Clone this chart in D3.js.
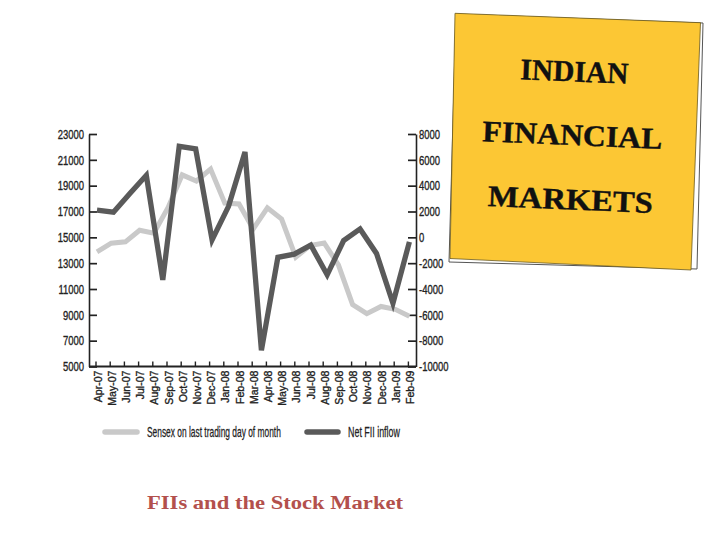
<!DOCTYPE html>
<html>
<head>
<meta charset="utf-8">
<script src="https://cdn.jsdelivr.net/npm/d3@7"></script>
<style>
  html, body { margin: 0; padding: 0; background: #fff; }
  svg { display: block; }
</style>
</head>
<body>
<svg id="chart" width="728" height="546"></svg>
<script>
// ---- data ----
const months = ["Apr-07","May-07","Jun-07","Jul-07","Aug-07","Sep-07","Oct-07","Nov-07","Dec-07",
  "Jan-08","Feb-08","Mar-08","Apr-08","May-08","Jun-08","Jul-08","Aug-08","Sep-08","Oct-08",
  "Nov-08","Dec-08","Jan-09","Feb-09"];
const sensex = [13872,14544,14651,15551,15319,17291,19838,19363,20287,17649,17579,15644,
  17287,16416,13462,14356,14565,12860,9788,9093,9647,9424,8892];
// Net FII inflow as drawn (20 vertices spread over the same span)
const fiiInflow = [2100,1950,3400,4800,-3300,7050,6850,-200,2400,6600,-8750,-1550,-1300,
  -600,-2900,-250,650,-1250,-5100,-350];
const leftTicks = [5000,7000,9000,11000,13000,15000,17000,19000,21000,23000];
const rightTicks = [-10000,-8000,-6000,-4000,-2000,0,2000,4000,6000,8000];
const legendLabels = ["Sensex  on last trading day of month", "Net FII inflow"];
const titleLines = ["INDIAN", "FINANCIAL", "MARKETS"];
const caption = "FIIs and the Stock Market";

// ---- layout ----
const svg = d3.select("#chart");
const axisLeftX = 89, axisRightX = 416, plotTop = 134, plotBottom = 366.5;
const x = d3.scalePoint().domain(months).range([97, 409.4]);
const xF = d3.scaleLinear().domain([0, fiiInflow.length - 1]).range([x(months[0]), x(months[months.length - 1])]);
const yL = d3.scaleLinear().domain([5000, 23000]).range([plotBottom, plotTop]);
const yR = d3.scaleLinear().domain([-10000, 8000]).range([plotBottom, plotTop]);

const tickFont = "'Liberation Sans', Arial, sans-serif";
function squeeze(sel, ratio) {
  sel.each(function () {
    const w = this.getComputedTextLength();
    d3.select(this).attr("textLength", w * ratio).attr("lengthAdjust", "spacingAndGlyphs");
  });
}
function inkText(sel, size) {
  sel.attr("font-family", tickFont).attr("font-size", size).attr("fill", "#222")
    .attr("stroke", "#222").attr("stroke-width", 0.35);
}

// left axis
const gL = svg.append("g").attr("transform", `translate(${axisLeftX},0)`)
  .call(d3.axisLeft(yL).tickValues(leftTicks).tickSize(-8).tickSizeOuter(0).tickPadding(5).tickFormat(d3.format("d")));
gL.select(".domain").attr("stroke", "#222").attr("stroke-width", 1.6);
gL.selectAll(".tick line").attr("stroke", "#222").attr("stroke-width", 1.7);
inkText(gL.selectAll("text"), 13.5);
squeeze(gL.selectAll("text"), 0.7);

// right axis
const gR = svg.append("g").attr("transform", `translate(${axisRightX},0)`)
  .call(d3.axisRight(yR).tickValues(rightTicks).tickSize(-8).tickSizeOuter(0).tickPadding(3).tickFormat(d => String(d)));
gR.select(".domain").attr("stroke", "#222").attr("stroke-width", 1.6);
gR.selectAll(".tick line").attr("stroke", "#222").attr("stroke-width", 1.7);
inkText(gR.selectAll("text"), 13.5);
squeeze(gR.selectAll("text"), 0.7);

// bottom axis
svg.append("line").attr("x1", axisLeftX).attr("x2", axisRightX).attr("y1", plotBottom).attr("y2", plotBottom)
  .attr("stroke", "#222").attr("stroke-width", 2);
const gB = svg.append("g").attr("transform", `translate(0,${plotBottom})`)
  .call(d3.axisBottom(x).tickSize(-5).tickSizeOuter(0));
gB.select(".domain").remove();
gB.selectAll(".tick line").attr("stroke", "#222").attr("stroke-width", 1.4).attr("transform", "translate(-1.5,0)");
inkText(gB.selectAll("text"), 11.5);
gB.selectAll("text")
  .attr("text-anchor", "end").attr("transform", "rotate(-90)")
  .attr("x", -4).attr("y", 0).attr("dy", "0.36em");
squeeze(gB.selectAll("text"), 0.92);

// lines
const lineS = d3.line().x((d, i) => x(months[i])).y(d => yL(d));
const lineF = d3.line().x((d, i) => xF(i)).y(d => yR(d));
svg.append("path").datum(sensex).attr("d", lineS)
  .attr("fill", "none").attr("stroke", "#c9c9c9").attr("stroke-width", 5).attr("stroke-linejoin", "miter");
svg.append("path").datum(fiiInflow).attr("d", lineF)
  .attr("fill", "none").attr("stroke", "#5a5a5a").attr("stroke-width", 5.3).attr("stroke-linejoin", "miter");

// legend
const legY = 432;
const leg = [
  { x1: 105, x2: 137, tx: 147, tw: 134, color: "#c9c9c9", label: legendLabels[0] },
  { x1: 307, x2: 338, tx: 348, tw: 52, color: "#5a5a5a", label: legendLabels[1] }
];
leg.forEach(l => {
  svg.append("line").attr("x1", l.x1).attr("x2", l.x2).attr("y1", legY).attr("y2", legY)
    .attr("stroke", l.color).attr("stroke-width", 5.5).attr("stroke-linecap", "round");
  const g = svg.append("g");
  const t = g.append("text").attr("x", 0).attr("y", 0).text(l.label);
  inkText(t, 14);
  t.attr("stroke-width", 0.25);
  const w = t.node().getComputedTextLength();
  g.attr("transform", `translate(${l.tx},${legY + 5}) scale(${l.tw / w},1)`);
});

// title card
svg.append("polygon").attr("points", "456,14 703,23 697,269 449,262")
  .attr("fill", "#fff").attr("stroke", "#555").attr("stroke-width", 1);
svg.append("polygon").attr("points", "455,13.3 700.5,22.7 691,270 450,258.5")
  .attr("fill", "#fcc734").attr("stroke", "#6b5a20").attr("stroke-width", 0.8);
const tl = [
  { cx: 574, by: 81.5, w: 108 },
  { cx: 572, by: 145, w: 180 },
  { cx: 570, by: 209.5, w: 165 }
];
titleLines.forEach((t, i) => {
  svg.append("text").attr("x", tl[i].cx).attr("y", tl[i].by).text(t)
    .attr("text-anchor", "middle")
    .attr("transform", `rotate(2.4,${tl[i].cx},${tl[i].by})`)
    .attr("font-family", "'Liberation Serif', 'DejaVu Serif', serif").attr("font-weight", "bold")
    .attr("font-size", 30).attr("fill", "#111").attr("stroke", "#111").attr("stroke-width", 0.4)
    .attr("textLength", tl[i].w).attr("lengthAdjust", "spacingAndGlyphs");
});

// caption
svg.append("text").attr("x", 147).attr("y", 509).text(caption)
  .attr("font-family", "'Liberation Serif', 'DejaVu Serif', serif").attr("font-weight", "bold")
  .attr("font-size", 18).attr("fill", "#b3504c")
  .attr("textLength", 256).attr("lengthAdjust", "spacingAndGlyphs");
</script>
</body>
</html>
